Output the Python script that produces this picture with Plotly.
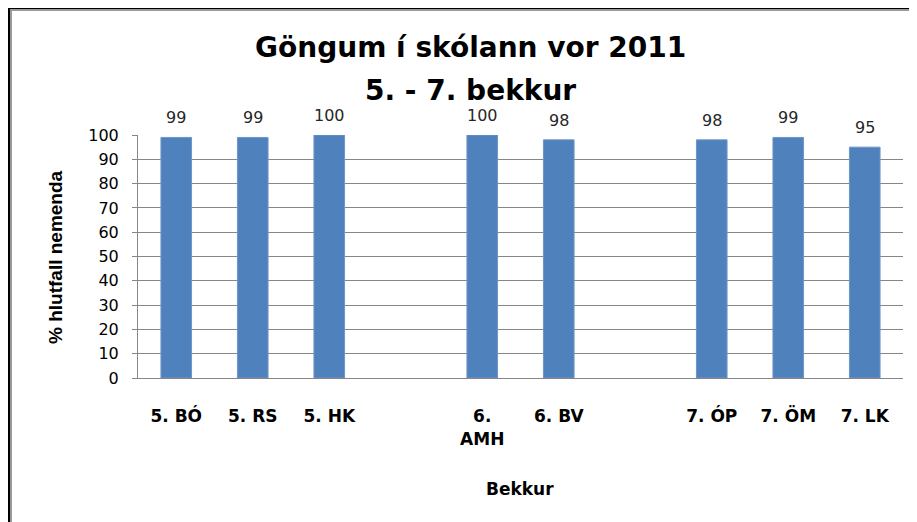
import plotly.graph_objects as go

# Data
categories = ["5. BÓ", "5. RS", "5. HK", " ", "6.<br>AMH", "6. BV", "  ", "7. ÓP", "7. ÖM", "7. LK"]
values = [99, 99, 100, None, 100, 98, None, 98, 99, 95]
y_ticks = [0, 10, 20, 30, 40, 50, 60, 70, 80, 90, 100]
title_line1 = "Göngum í skólann vor 2011"
title_line2 = "5. - 7. bekkur"
x_title = "Bekkur"
y_title = "% hlutfall nemenda"

# page has an 8px body margin; figure placed at (8, 8)
OFF = 8
W, H = 917 - OFF, 522 - OFF
L, R, T, B = 138 - OFF, 14, 135 - OFF, 144
PW, PH = W - L - R, H - T - B

def px(x):  # page pixel -> paper x
    return (x - OFF - L) / PW

def py(y):  # page pixel -> paper y
    return (H - B - (y - OFF)) / PH

fig = go.Figure()
fig.add_trace(go.Bar(
    x=categories, y=values, width=0.4,
    marker=dict(color="#4F81BD", line=dict(color="#6E95C6", width=1)),
    hoverinfo="x+y",
))

annotations = []
for c, v in zip(categories, values):
    if v is None:
        continue
    annotations.append(dict(
        x=c, y=v, xref="x", yref="y", text=str(v), showarrow=False,
        yanchor="bottom", yshift=8,
        font=dict(family="DejaVu Sans", size=16, color="#262626"),
    ))

annotations += [
    dict(x=px(470), y=py(48), xref="paper", yref="paper", text="<b>%s</b>" % title_line1,
         showarrow=False, xanchor="center", yanchor="middle",
         font=dict(family="DejaVu Sans", size=28, color="#000000")),
    dict(x=px(470), y=py(91), xref="paper", yref="paper", text="<b>%s</b>" % title_line2,
         showarrow=False, xanchor="center", yanchor="middle",
         font=dict(family="DejaVu Sans", size=28, color="#000000")),
    dict(x=px(520), y=py(489), xref="paper", yref="paper", text="<b>%s</b>" % x_title,
         showarrow=False, xanchor="center", yanchor="middle",
         font=dict(family="DejaVu Sans", size=17, color="#000000")),
    dict(x=px(55), y=py(257), xref="paper", yref="paper", text="<b>%s</b>" % y_title,
         showarrow=False, xanchor="center", yanchor="middle", textangle=-90,
         font=dict(family="Liberation Sans", size=19, color="#000000")),
]

shapes = [
    dict(type="line", xref="paper", yref="paper", x0=px(8), x1=px(930), y0=py(8), y1=py(8),
         line=dict(color="#000000", width=2)),
    dict(type="line", xref="paper", yref="paper", x0=px(9), x1=px(9), y0=py(7), y1=py(540),
         line=dict(color="#000000", width=2)),
    dict(type="line", xref="paper", yref="paper", x0=px(10), x1=px(930), y0=py(10), y1=py(10),
         line=dict(color="#9a9a9a", width=2)),
    dict(type="line", xref="paper", yref="paper", x0=px(11), x1=px(11), y0=py(10), y1=py(540),
         line=dict(color="#9a9a9a", width=2)),
]

fig.update_layout(
    width=W, height=H,
    margin=dict(l=L, r=R, t=T, b=B, autoexpand=False),
    paper_bgcolor="white", plot_bgcolor="white",
    showlegend=False,
    annotations=annotations,
    shapes=shapes,
    bargap=0.6,
)
fig.update_xaxes(
    type="category", categoryorder="array", categoryarray=categories,
    showline=True, linecolor="#868686", linewidth=1,
    showgrid=False, ticks="", ticklabelstandoff=23,
    tickfont=dict(family="DejaVu Sans", size=17, color="#000000", weight="bold"),
)
fig.update_yaxes(
    range=[0, 100], tickvals=y_ticks,
    showline=True, linecolor="#868686", linewidth=1,
    showgrid=True, gridcolor="#868686", gridwidth=1,
    ticks="outside", ticklen=5, tickcolor="#868686",
    ticklabelstandoff=10, zeroline=False,
    tickfont=dict(family="DejaVu Sans", size=16, color="#000000"),
)

fig.write_html("out.html")
